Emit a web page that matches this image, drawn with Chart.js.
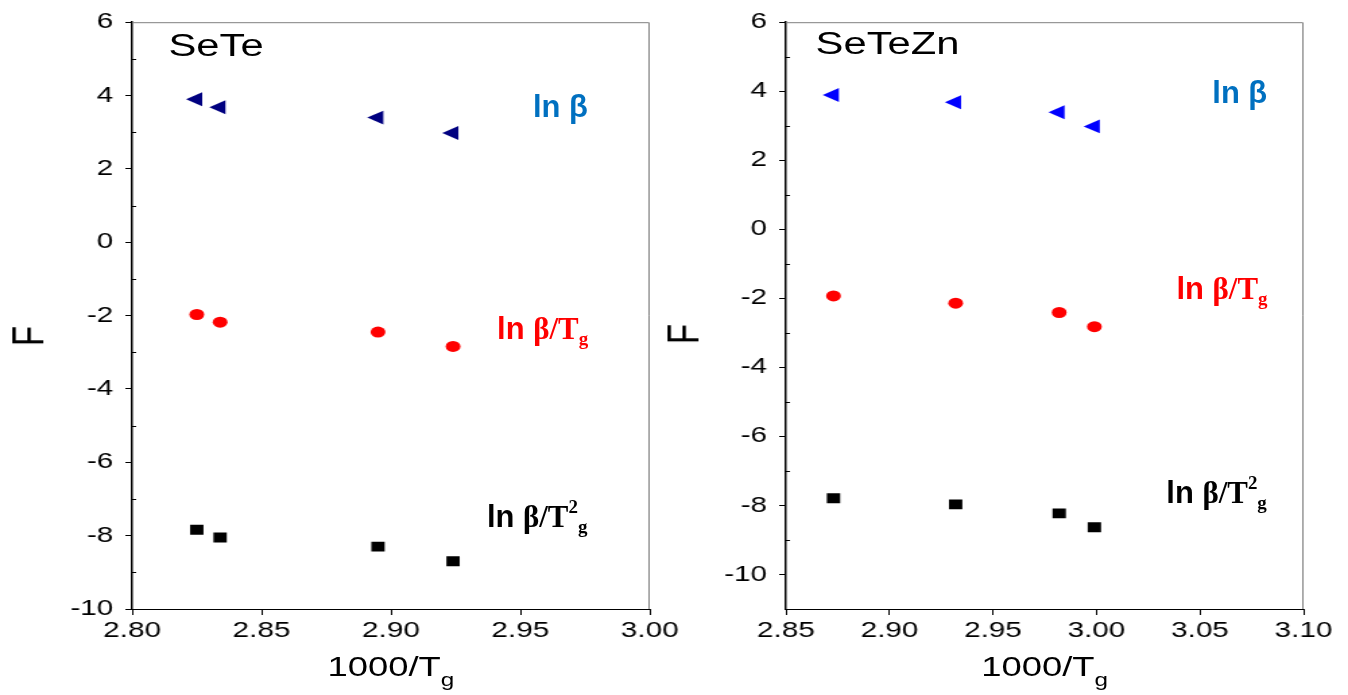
<!DOCTYPE html>
<html>
<head>
<meta charset="utf-8">
<script src="https://cdn.jsdelivr.net/npm/chart.js@4.4.0/dist/chart.umd.min.js"></script>
<style>
  body { margin:0; background:#fff; width:1348px; height:695px; overflow:hidden; position:relative;
         font-family:"Liberation Sans", Arial, sans-serif; }
  /* each panel is drawn narrow and stretched sideways */
  .painel { position:absolute; top:0; width:510px; height:695px; transform:scaleX(1.348); transform-origin:0 0; }
  .painel canvas { position:absolute; left:0; top:0; }
  .txt { position:absolute; line-height:1; white-space:nowrap; color:#000; }
  .nome { font-size:31px; }
  .xt { font-size:27px; transform:translateX(-50%); }
  .xt sub { font-size:18px; vertical-align:-0.55em; line-height:0; }
  .yt { font-size:33px; transform:translate(-50%,-50%) rotate(-90deg); }
  .lab { display:inline-block; transform:scaleX(0.74); transform-origin:100% 50%; }
  .ln { font-family:"Liberation Sans", Arial, sans-serif; font-weight:bold; font-size:31px; }
  .sr { font-family:"Liberation Serif", serif; font-weight:bold; font-size:31px; }
  .sr sub { font-size:19px; vertical-align:-0.3em; line-height:0; }
  .sr sup { font-size:19px; vertical-align:0.75em; line-height:0; }
</style>
</head>
<body>

<div class="painel" style="left:0px;">
  <canvas id="graf1" width="510" height="695"></canvas>
  <div class="txt nome" style="left:125px; top:30px;">SeTe</div>
  <div class="txt yt" style="left:21px; top:336px;">F</div>
  <div class="txt xt" style="left:290px; top:654px;">1000/T<sub>g</sub></div>
  <div class="txt" style="right:74px; top:91px; color:#0070c0;"><span class="lab"><span class="ln">ln β</span></span></div>
  <div class="txt" style="right:74px; top:313px; color:#ff0000;"><span class="lab"><span class="ln">ln </span><span class="sr">β/T<sub>g</sub></span></span></div>
  <div class="txt" style="right:74px; top:501px;"><span class="lab"><span class="ln">ln </span><span class="sr">β/T<sup>2</sup><sub>g</sub></span></span></div>
</div>

<div class="painel" style="left:674px;">
  <canvas id="graf2" width="510" height="695"></canvas>
  <div class="txt nome" style="left:105px; top:28px;">SeTeZn</div>
  <div class="txt yt" style="left:7px; top:334px;">F</div>
  <div class="txt xt" style="left:275px; top:654px;">1000/T<sub>g</sub></div>
  <div class="txt" style="right:70px; top:77px; color:#0070c0;"><span class="lab"><span class="ln">ln β</span></span></div>
  <div class="txt" style="right:70px; top:273px; color:#ff0000;"><span class="lab"><span class="ln">ln </span><span class="sr">β/T<sub>g</sub></span></span></div>
  <div class="txt" style="right:70px; top:477px;"><span class="lab"><span class="ln">ln </span><span class="sr">β/T<sup>2</sup><sub>g</sub></span></span></div>
</div>

<script>
// SeTe
var seteX = [2.825, 2.834, 2.895, 2.924];
var seteLnB = [3.90, 3.68, 3.40, 2.98];
var seteLnBTg = [-1.97, -2.18, -2.45, -2.84];
var seteLnBTg2 = [-7.84, -8.05, -8.30, -8.70];
var seteXTicks = [2.80, 2.85, 2.90, 2.95, 3.00];
var seteYTicks = [-10, -8, -6, -4, -2, 0, 2, 4, 6];

// SeTeZn
var zincX = [2.873, 2.932, 2.982, 2.999];
var zincLnB = [3.89, 3.68, 3.39, 2.98];
var zincLnBTg = [-1.93, -2.14, -2.41, -2.82];
var zincLnBTg2 = [-7.79, -7.97, -8.23, -8.63];
var zincXTicks = [2.85, 2.90, 2.95, 3.00, 3.05, 3.10];
var zincYTicks = [-10, -8, -6, -4, -2, 0, 2, 4, 6];

var fonte = "'Liberation Sans', Arial, sans-serif";

function pontos(xs, ys) {
    var p = [];
    for (var i = 0; i < xs.length; i++) {
        p.push({x: xs[i], y: ys[i]});
    }
    return p;
}

// gray top/right frame + small inner minor ticks on the y axis
var moldura = {
    id: 'moldura',
    afterDraw: function(chart) {
        var a = chart.chartArea, ctx = chart.ctx, ys = chart.scales.y;
        ctx.save();
        ctx.strokeStyle = '#808080';
        ctx.lineWidth = 1;
        ctx.beginPath();
        ctx.moveTo(a.left, a.top + 0.5);
        ctx.lineTo(a.right - 0.5, a.top + 0.5);
        ctx.lineTo(a.right - 0.5, a.bottom);
        ctx.stroke();
        ctx.strokeStyle = '#000';
        ctx.beginPath();
        for (var v = Math.ceil(ys.min); v <= ys.max; v++) {
            if (Math.abs(v % 2) == 1) {
                var py = Math.round(ys.getPixelForValue(v)) + 0.5;
                ctx.moveTo(a.left, py);
                ctx.lineTo(a.left + 3, py);
            }
        }
        ctx.stroke();
        ctx.restore();
    }
};

function grafico(id, xs, lnb, lnbt, lnbt2, triCor, xTicks, yTicks, xMin, xMax, yMin, yMax, esquerda, direita) {
    var data = {
        datasets: [{
            data: pontos(xs, lnb),
            pointStyle: 'triangle',
            pointRotation: -90,
            pointRadius: 8,
            pointBorderWidth: 0,
            backgroundColor: triCor,
            borderColor: triCor
        }, {
            data: pontos(xs, lnbt),
            pointStyle: 'circle',
            pointRadius: 5.5,
            pointBorderWidth: 0,
            backgroundColor: '#ff0000',
            borderColor: '#ff0000'
        }, {
            data: pontos(xs, lnbt2),
            pointStyle: 'rect',
            pointRadius: 7,
            pointBorderWidth: 0,
            backgroundColor: '#000000',
            borderColor: '#000000'
        }]
    };

    var options = {
        responsive: false,
        animation: false,
        layout: { padding: { top: 17, right: direita, left: 0, bottom: 0 } },
        plugins: { legend: { display: false }, tooltip: { enabled: false } },
        scales: {
            x: {
                type: 'linear',
                min: xMin,
                max: xMax,
                afterBuildTicks: function(s) { s.ticks = xTicks.map(function(v) { return {value: v}; }); },
                afterFit: function(s) { s.height = 86; s.paddingLeft = 0; s.paddingRight = 0; },
                border: { color: '#000', width: 1 },
                grid: { drawOnChartArea: false, drawTicks: true, tickLength: 6, color: '#000' },
                ticks: {
                    color: '#000', padding: 3, maxRotation: 0,
                    font: { family: fonte, size: 22 },
                    callback: function(v) { return Number(v).toFixed(2); }
                }
            },
            y: {
                type: 'linear',
                min: yMin,
                max: yMax,
                afterBuildTicks: function(s) { s.ticks = yTicks.map(function(v) { return {value: v}; }); },
                afterFit: function(s) { s.width = esquerda; },
                border: { color: '#000', width: 1.5 },
                grid: { drawOnChartArea: false, drawTicks: true, tickLength: 5, color: '#000' },
                ticks: {
                    color: '#000', padding: 9,
                    font: { family: fonte, size: 22 },
                    callback: function(v) { return String(v); }
                }
            }
        }
    };

    var ctx = document.getElementById(id);
    return new Chart(ctx, { type: 'scatter', data: data, options: options, plugins: [moldura] });
}

grafico('graf1', seteX, seteLnB, seteLnBTg, seteLnBTg2, '#000080', seteXTicks, seteYTicks, 2.80, 3.00, -10, 6, 98, 28);
grafico('graf2', zincX, zincLnB, zincLnBTg, zincLnBTg2, '#0000ff', zincXTicks, zincYTicks, 2.85, 3.10, -11, 6, 83, 43);
</script>
</body>
</html>
